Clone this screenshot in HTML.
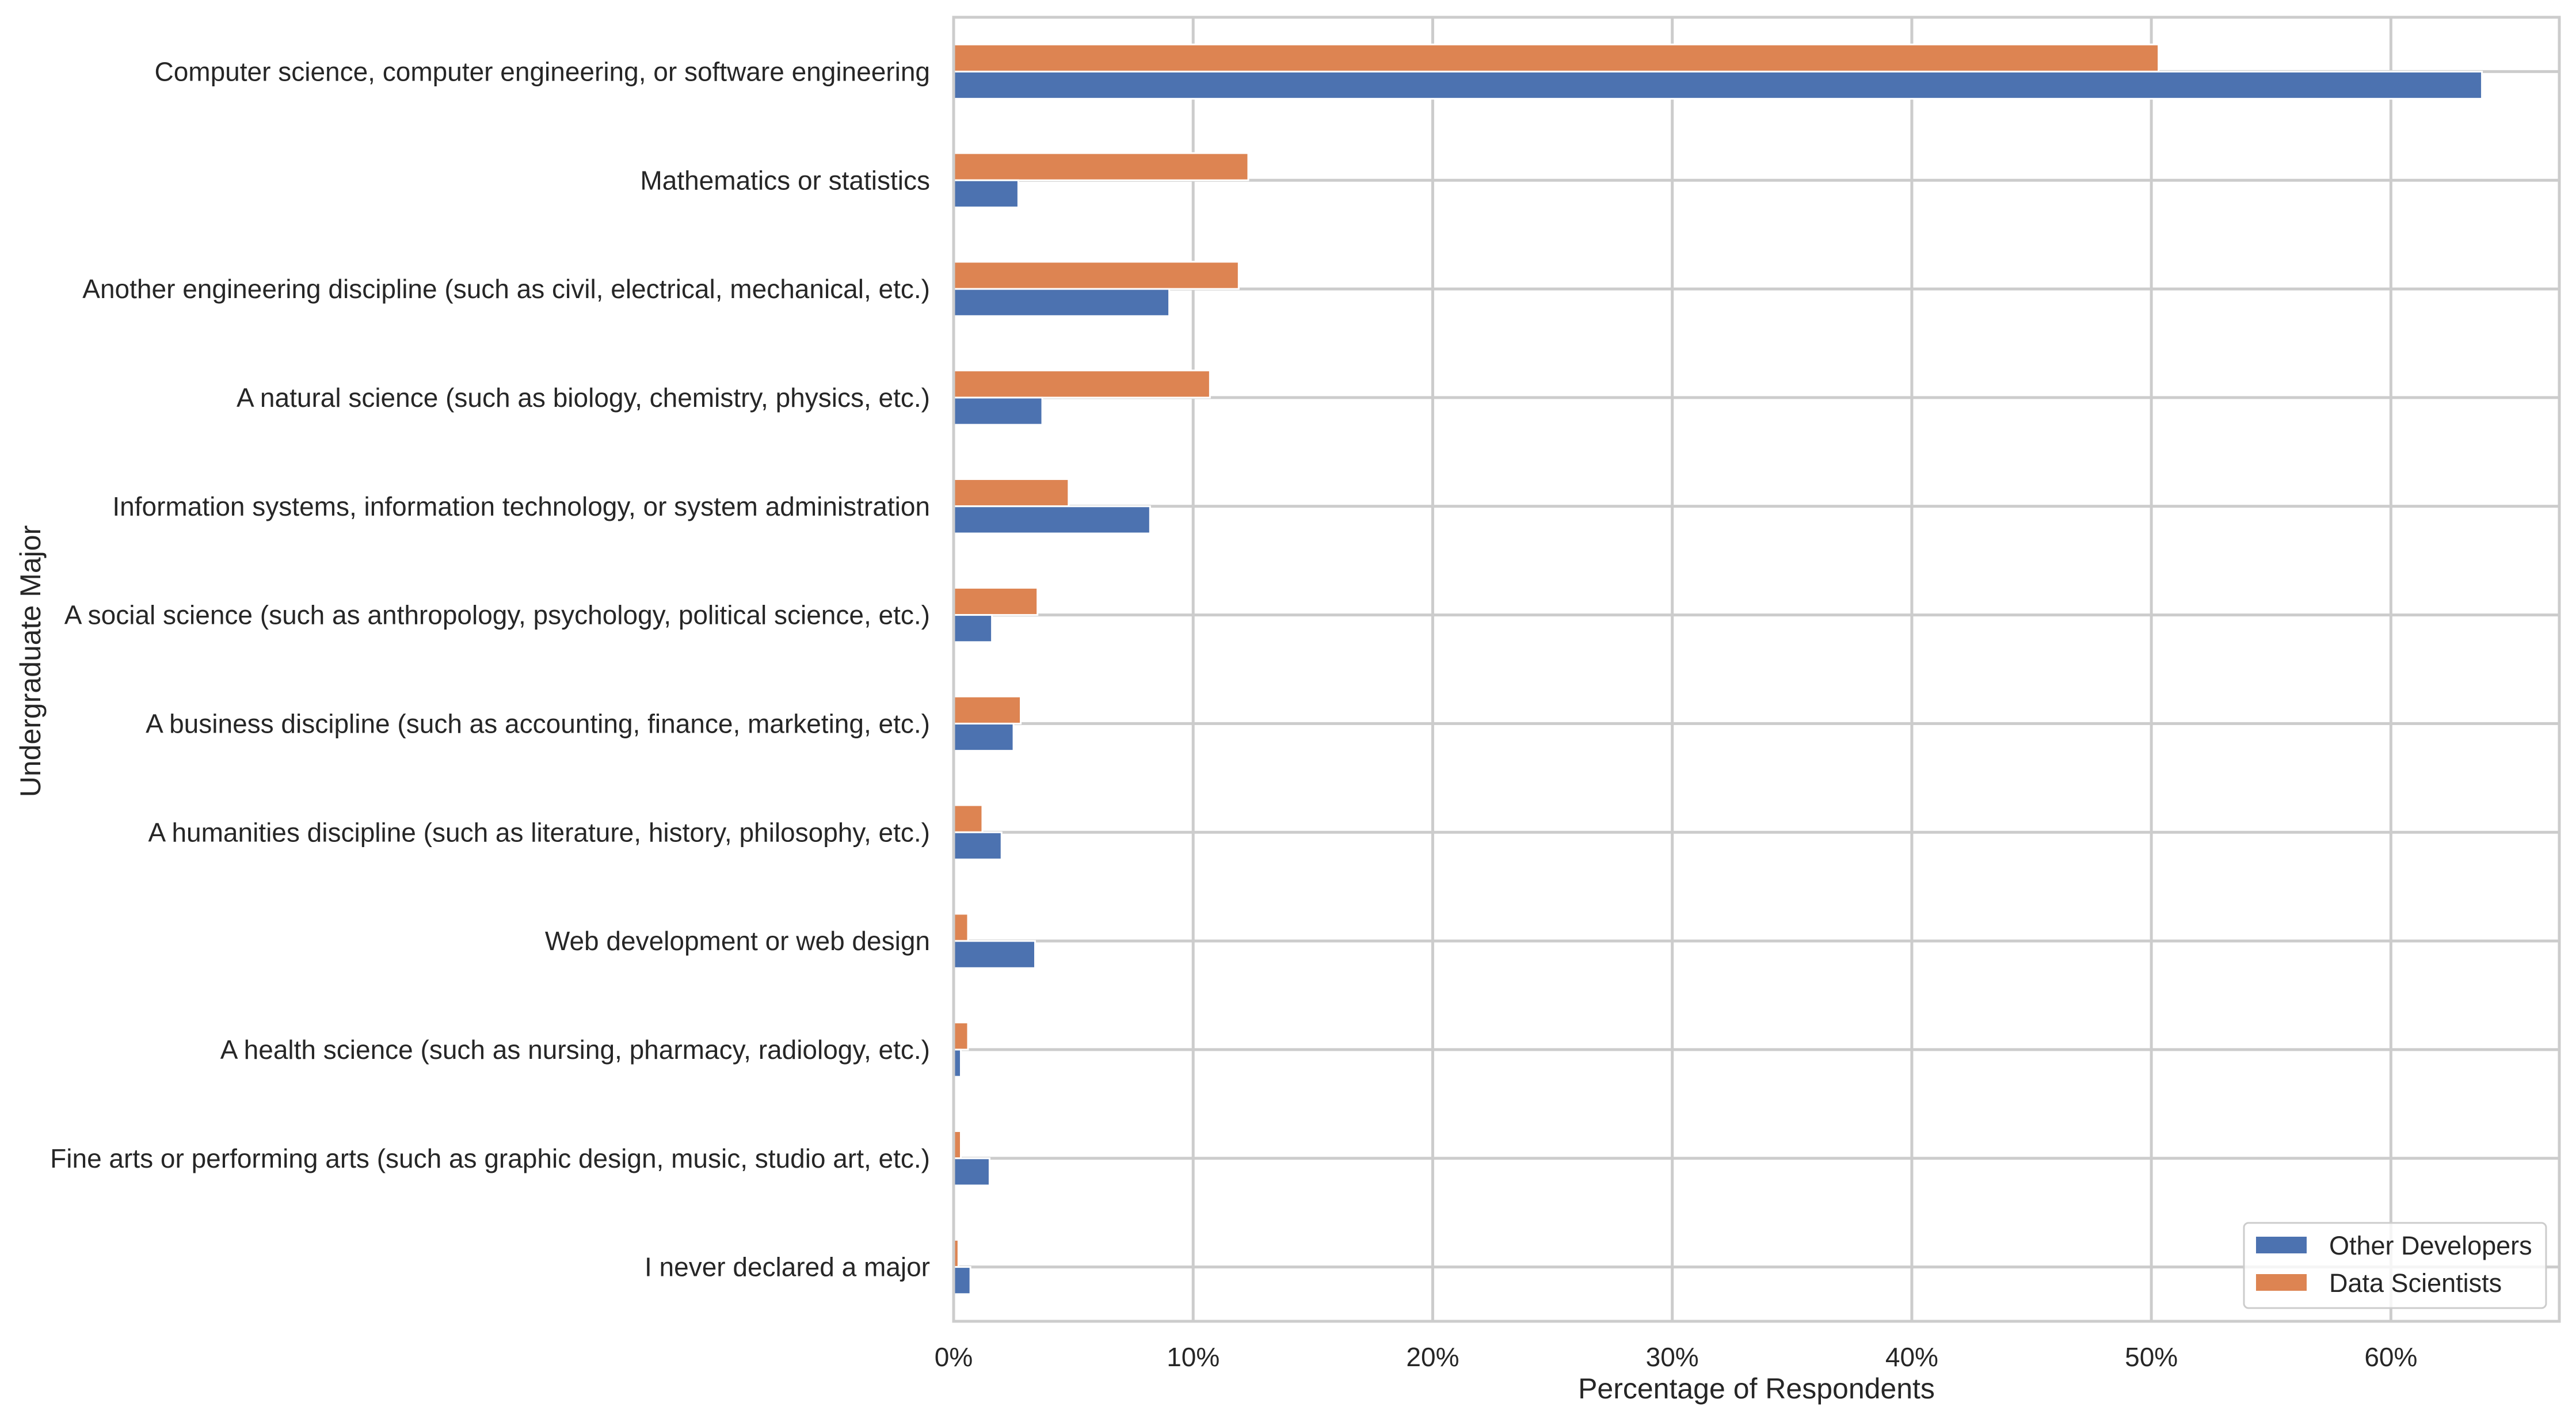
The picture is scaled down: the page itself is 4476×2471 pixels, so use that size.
<!DOCTYPE html>
<html><head><meta charset="utf-8"><style>
html,body{margin:0;padding:0;background:#fff;}
svg{display:block;font-family:"Liberation Sans",Arial,sans-serif;}
</style></head><body>
<svg id="chart" width="4476" height="2471" viewBox="0 0 4476 2471" xmlns="http://www.w3.org/2000/svg">
<rect x="0" y="0" width="4476" height="2471" fill="#fff"/>
<g id="grid"></g>
<g id="bars"></g>
<g id="spines"></g>
<g id="ylabels"></g>
<g id="xlabels"></g>
<text x="3052" y="2430" font-size="50" fill="#262626" text-anchor="middle">Percentage of Respondents</text>
<text transform="translate(70,1149) rotate(-90)" font-size="50" fill="#262626" text-anchor="middle">Undergraduate Major</text>
<g>
<rect x="3899" y="2125" width="525" height="148" rx="8" fill="#fff" fill-opacity="0.8" stroke="#cccccc" stroke-width="3"/>
<rect x="3920" y="2149" width="88" height="29" fill="#4c72b0"/>
<text x="4047" y="2180" font-size="45" fill="#262626">Other Developers</text>
<rect x="3920" y="2214" width="88" height="29" fill="#dd8452"/>
<text x="4047" y="2245" font-size="45" fill="#262626">Data Scientists</text>
</g>
</svg>
<script>
const categories = [
"Computer science, computer engineering, or software engineering",
"Mathematics or statistics",
"Another engineering discipline (such as civil, electrical, mechanical, etc.)",
"A natural science (such as biology, chemistry, physics, etc.)",
"Information systems, information technology, or system administration",
"A social science (such as anthropology, psychology, political science, etc.)",
"A business discipline (such as accounting, finance, marketing, etc.)",
"A humanities discipline (such as literature, history, philosophy, etc.)",
"Web development or web design",
"A health science (such as nursing, pharmacy, radiology, etc.)",
"Fine arts or performing arts (such as graphic design, music, studio art, etc.)",
"I never declared a major"
];
const otherDevelopers = [63.8, 2.7, 9.0, 3.7, 8.2, 1.6, 2.5, 2.0, 3.4, 0.3, 1.5, 0.7];
const dataScientists = [50.3, 12.3, 11.9, 10.7, 4.8, 3.5, 2.8, 1.2, 0.6, 0.6, 0.3, 0.2];
const xTicks = [0, 10, 20, 30, 40, 50, 60];
const xTickLabels = ["0%", "10%", "20%", "30%", "40%", "50%", "60%"];

const NS = "http://www.w3.org/2000/svg";
const L = 1657, R = 4447, T = 30, B = 2296, XMAX = 67.03;
const xs = v => L + v / XMAX * (R - L);
const band = (B - T) / categories.length;
const yc = i => T + band * (i + 0.5);
function mk(tag, attrs, parent) {
  const e = document.createElementNS(NS, tag);
  for (const k in attrs) e.setAttribute(k, attrs[k]);
  parent.appendChild(e);
  return e;
}
const grid = document.getElementById('grid');
const bars = document.getElementById('bars');
const spines = document.getElementById('spines');
const yl = document.getElementById('ylabels');
const xl = document.getElementById('xlabels');

xTicks.forEach((t, i) => {
  const g = mk('line', {x1: xs(t), x2: xs(t), y1: T, y2: B, stroke: '#cccccc', 'stroke-width': 5}, grid);
  
  
  const tx = mk('text', {x: xs(t), y: 2374, 'font-size': 46, fill: '#262626', 'text-anchor': 'middle'}, xl);
  tx.textContent = xTickLabels[i];
  
  
});
categories.forEach((c, i) => {
  const g = mk('line', {x1: L, x2: R, y1: yc(i), y2: yc(i), stroke: '#cccccc', 'stroke-width': 5}, grid);
  
  
  const h = band * 0.25;
  const ob = mk('rect', {x: L, y: yc(i) - h, width: xs(dataScientists[i]) - L, height: h, fill: '#dd8452', stroke: '#fff', 'stroke-width': 3}, bars);
  
  
  const bb = mk('rect', {x: L, y: yc(i), width: xs(otherDevelopers[i]) - L, height: h, fill: '#4c72b0', stroke: '#fff', 'stroke-width': 3}, bars);
  
  
  const tx = mk('text', {x: 1616, y: yc(i) + 16, 'font-size': 46, fill: '#262626', 'text-anchor': 'end'}, yl);
  tx.textContent = c;
  
  
});
const sp = mk('rect', {x: L, y: T, width: R - L, height: B - T, fill: 'none', stroke: '#cccccc', 'stroke-width': 5}, spines);


</script>
</body></html>
